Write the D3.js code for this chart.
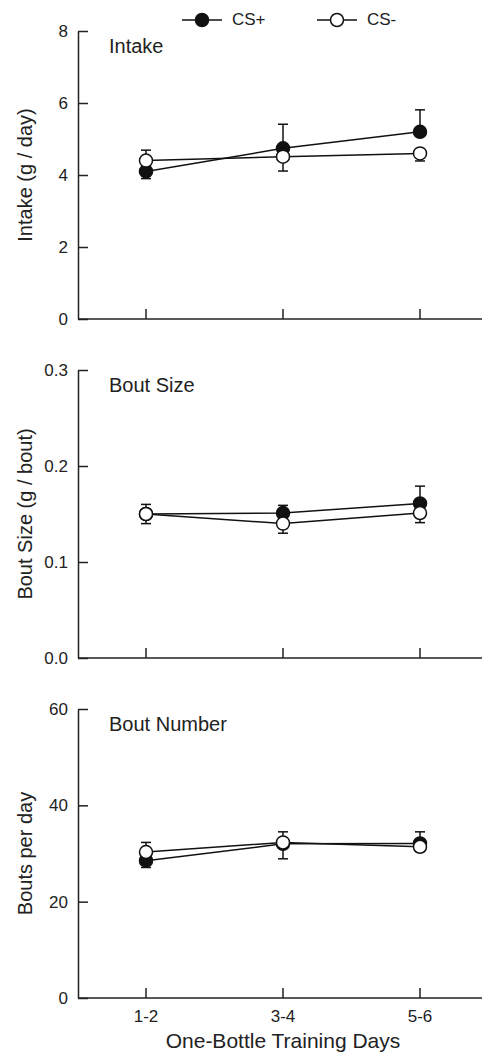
<!DOCTYPE html>
<html>
<head>
<meta charset="utf-8">
<script src="https://cdn.jsdelivr.net/npm/d3@7.9.0/dist/d3.min.js"></script>
<style>
  html, body { margin: 0; padding: 0; background: #fff; }
  svg { display: block; font-family: "Liberation Sans", Arial, sans-serif; }
</style>
</head>
<body>
<svg id="chart" width="482" height="1055"></svg>
<script>
// --- Data ---
const days = ['1-2', '3-4', '5-6'];

const intakeCSplus = [4.1, 4.74, 5.2];
const intakeCSplusErr = [0.2, 0.67, 0.61];
const intakeCSminus = [4.4, 4.51, 4.6];
const intakeCSminusErr = [0.29, 0.4, 0.21];

const sizeCSplus = [0.15, 0.151, 0.161];
const sizeCSplusErr = [0.01, 0.008, 0.018];
const sizeCSminus = [0.15, 0.14, 0.151];
const sizeCSminusErr = [0.01, 0.01, 0.01];

const numberCSplus = [28.5, 32.0, 32.1];
const numberCSplusErr = [1.4, 3.1, 2.4];
const numberCSminus = [30.3, 32.3, 31.4];
const numberCSminusErr = [2.0, 2.2, 1.0];

const intakeTicks = [0, 2, 4, 6, 8];
const sizeTicks = [0, 0.1, 0.2, 0.3];
const numberTicks = [0, 20, 40, 60];

// --- Layout ---
const svg = d3.select('#chart');
const axisX = 78;
const ink = '#222';

const x = d3.scalePoint().domain(days).range([146, 420]);

const panels = [
  { title: 'Intake', ylabel: 'Intake (g / day)', top: 31, bottom: 319, domain: [0, 8],
    ticks: intakeTicks, fmt: d3.format('d'), plus: intakeCSplus, plusErr: intakeCSplusErr,
    minus: intakeCSminus, minusErr: intakeCSminusErr },
  { title: 'Bout Size', ylabel: 'Bout Size (g / bout)', top: 370, bottom: 658, domain: [0, 0.3],
    ticks: sizeTicks, fmt: d3.format('.1f'), plus: sizeCSplus, plusErr: sizeCSplusErr,
    minus: sizeCSminus, minusErr: sizeCSminusErr },
  { title: 'Bout Number', ylabel: 'Bouts per day', top: 709, bottom: 998, domain: [0, 60],
    ticks: numberTicks, fmt: d3.format('d'), plus: numberCSplus, plusErr: numberCSplusErr,
    minus: numberCSminus, minusErr: numberCSminusErr }
];

panels.forEach((p, pi) => {
  const y = d3.scaleLinear().domain(p.domain).range([p.bottom, p.top]);
  const g = svg.append('g');

  // y axis, ticks pointing inward
  const yAxis = d3.axisLeft(y).tickValues(p.ticks).tickFormat(p.fmt).tickSizeInner(-10).tickSizeOuter(0).tickPadding(10);
  const ya = g.append('g').attr('transform', `translate(${axisX},0)`).call(yAxis);
  ya.select('.domain').attr('stroke', ink).attr('stroke-width', 1.5);
  ya.selectAll('.tick line').attr('stroke', ink).attr('stroke-width', 1.5);
  ya.selectAll('.tick text').attr('fill', ink).style('font-size', '17px').attr('x', -10);

  // x axis running to the right edge, ticks inward
  g.append('line')
    .attr('x1', axisX).attr('x2', 482).attr('y1', p.bottom).attr('y2', p.bottom)
    .attr('stroke', ink).attr('stroke-width', 1.5);
  g.selectAll('.xtick').data(days).join('line')
    .attr('x1', d => x(d)).attr('x2', d => x(d))
    .attr('y1', p.bottom).attr('y2', p.bottom - 10)
    .attr('stroke', ink).attr('stroke-width', 1.5);

  // y label
  g.append('text')
    .attr('transform', `translate(32,${(p.top + p.bottom) / 2}) rotate(-90)`)
    .attr('text-anchor', 'middle').attr('fill', ink)
    .style('font-size', '20px').text(p.ylabel);

  // panel title
  g.append('text').attr('x', 109).attr('y', p.top + 22)
    .attr('fill', ink).style('font-size', '20px').text(p.title);

  const series = [
    { vals: p.plus, errs: p.plusErr, other: p.minus, fill: '#111', up: (a, b) => a >= b },
    { vals: p.minus, errs: p.minusErr, other: p.plus, fill: '#fff', up: (a, b) => a > b }
  ];

  const line = d3.line().x((d, i) => x(days[i])).y(d => y(d));

  // error bars: drawn away from the other series
  series.forEach(s => {
    s.vals.forEach((v, i) => {
      const dir = s.up(v, s.other[i]) ? 1 : -1;
      const end = y(v + dir * s.errs[i]);
      g.append('line').attr('x1', x(days[i])).attr('x2', x(days[i]))
        .attr('y1', y(v)).attr('y2', end).attr('stroke', '#111').attr('stroke-width', 1.5);
      g.append('line').attr('x1', x(days[i]) - 5).attr('x2', x(days[i]) + 5)
        .attr('y1', end).attr('y2', end).attr('stroke', '#111').attr('stroke-width', 1.5);
    });
  });

  series.forEach(s => {
    g.append('path').datum(s.vals).attr('d', line)
      .attr('fill', 'none').attr('stroke', '#111').attr('stroke-width', 1.5);
  });

  series.forEach(s => {
    g.selectAll(null).data(s.vals).join('circle')
      .attr('cx', (d, i) => x(days[i])).attr('cy', d => y(d)).attr('r', 6.5)
      .attr('fill', s.fill).attr('stroke', '#111').attr('stroke-width', 1.5);
  });

  if (pi === 2) {
    g.selectAll('.xlab').data(days).join('text')
      .attr('x', d => x(d)).attr('y', p.bottom + 24)
      .attr('text-anchor', 'middle').attr('fill', ink)
      .style('font-size', '17px').text(d => d);
    g.append('text').attr('x', x('3-4')).attr('y', p.bottom + 50)
      .attr('text-anchor', 'middle').attr('fill', ink)
      .style('font-size', '21px').text('One-Bottle Training Days');
  }
});

// legend
const legendItems = [
  { label: 'CS+', fill: '#111', x0: 182 },
  { label: 'CS-', fill: '#fff', x0: 317 }
];
legendItems.forEach(l => {
  const lg = svg.append('g');
  lg.append('line').attr('x1', l.x0).attr('x2', l.x0 + 40).attr('y1', 20).attr('y2', 20)
    .attr('stroke', '#111').attr('stroke-width', 1.5);
  lg.append('circle').attr('cx', l.x0 + 20).attr('cy', 20).attr('r', 6.5)
    .attr('fill', l.fill).attr('stroke', '#111').attr('stroke-width', 1.5);
  lg.append('text').attr('x', l.x0 + 50).attr('y', 25)
    .attr('fill', ink).style('font-size', '17px').text(l.label);
});
</script>
</body>
</html>
